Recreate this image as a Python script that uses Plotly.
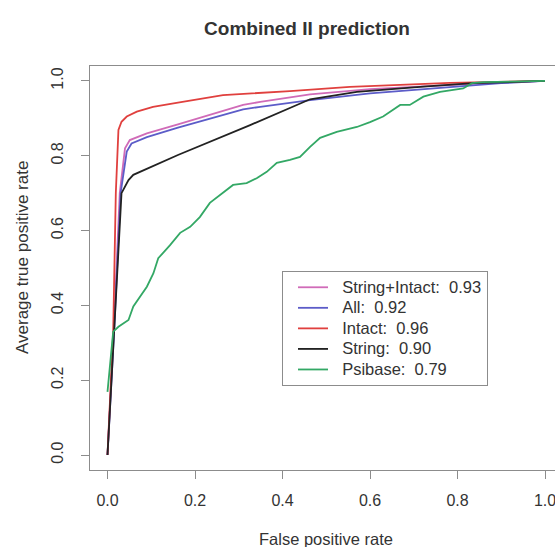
import plotly.graph_objects as go

# ---- data ----
series_names = ["String+Intact:\u00a0 0.93", "All:\u00a0 0.92", "Intact:\u00a0 0.96",
                "String:\u00a0 0.90", "Psibase:\u00a0 0.79"]

si_fpr = [0, 0.015, 0.028, 0.04, 0.051, 0.09, 0.161, 0.31, 0.349, 0.417, 0.463, 0.6, 0.783, 0.9, 1.0]
si_tpr = [0, 0.35, 0.70, 0.82, 0.842, 0.860, 0.884, 0.936, 0.944, 0.956, 0.964, 0.978, 0.989, 0.996, 1.0]

all_fpr = [0, 0.016, 0.030, 0.044, 0.055, 0.09, 0.161, 0.31, 0.349, 0.463, 0.6, 0.783, 0.9, 1.0]
all_tpr = [0, 0.35, 0.70, 0.811, 0.833, 0.850, 0.875, 0.924, 0.931, 0.949, 0.967, 0.984, 0.994, 1.0]

intact_fpr = [0, 0.013, 0.019, 0.025, 0.032, 0.044, 0.067, 0.104, 0.161, 0.264, 0.417, 0.554, 0.783, 0.9, 1.0]
intact_tpr = [0, 0.33, 0.70, 0.869, 0.891, 0.905, 0.918, 0.931, 0.942, 0.962, 0.973, 0.984, 0.995, 0.998, 1.0]

string_fpr = [0, 0.017, 0.032, 0.048, 0.059, 0.161, 0.326, 0.463, 0.57, 0.722, 0.836, 1.0]
string_tpr = [0, 0.36, 0.70, 0.735, 0.749, 0.802, 0.882, 0.951, 0.971, 0.985, 0.994, 1.0]

psi_fpr = [0, 0.013, 0.025, 0.048, 0.059, 0.09, 0.105, 0.116, 0.143, 0.166, 0.189, 0.211,
           0.234, 0.264, 0.287, 0.318, 0.341, 0.364, 0.387, 0.417, 0.44, 0.463, 0.486, 0.524,
           0.57, 0.6, 0.63, 0.669, 0.691, 0.722, 0.76, 0.813, 0.833, 0.858, 1.0]
psi_tpr = [0.169, 0.33, 0.343, 0.361, 0.397, 0.45, 0.486, 0.526, 0.561, 0.594, 0.61, 0.636,
           0.674, 0.70, 0.722, 0.727, 0.74, 0.757, 0.781, 0.789, 0.797, 0.824, 0.848, 0.864,
           0.877, 0.89, 0.905, 0.936, 0.936, 0.958, 0.971, 0.98, 0.994, 0.997, 1.0]

tick_vals = [0.0, 0.2, 0.4, 0.6, 0.8, 1.0]
tick_text = ["0.0", "0.2", "0.4", "0.6", "0.8", "1.0"]

colors = ["#D06BB8", "#5C5CC8", "#E0403E", "#222222", "#33A865"]

xs = [si_fpr, all_fpr, intact_fpr, string_fpr, psi_fpr]
ys = [si_tpr, all_tpr, intact_tpr, string_tpr, psi_tpr]

FONT = "Liberation Sans, Arial, sans-serif"
TXT = "#333333"
AX = "#8c8c8c"

fig = go.Figure()
for name, x, y, c in zip(series_names, xs, ys, colors):
    fig.add_trace(go.Scatter(x=x, y=y, mode="lines",
                             name='<span style="font-size:16.5px">\u00a0\u00a0' + name + '</span>',
                             line=dict(color=c, width=1.8)))

W, H = 555, 547
L, T, B = 90, 66, 77
fig.update_layout(
    width=W, height=H,
    margin=dict(l=L, r=0, t=T, b=B, autoexpand=False),
    paper_bgcolor="white", plot_bgcolor="white",
    font=dict(family=FONT, size=16, color=TXT),
    title=dict(text="<b>Combined II prediction</b>", x=307 / W, y=1 - 28 / H,
               xref="container", yref="container", xanchor="center", yanchor="middle",
               font=dict(size=19, color=TXT, family=FONT)),
    showlegend=True,
    legend=dict(x=(282 - L) / (W - L), y=(470 - 271) / (H - T - B),
                xanchor="left", yanchor="top",
                bordercolor=AX, borderwidth=1, bgcolor="white",
                font=dict(size=13.5, color=TXT, family=FONT),
                itemwidth=30, indentation=10, tracegroupgap=0),
)
fig.update_xaxes(range=[-0.04, (555 - 107.5) / 437.5], tickvals=tick_vals, ticktext=tick_text,
                 showgrid=False, zeroline=False, showline=True, mirror=True,
                 linecolor=AX, linewidth=1, ticks="outside", ticklen=8, tickcolor=AX,
                 ticklabelstandoff=8, ticklabeloverflow="allow",
                 tickfont=dict(size=16, color=TXT))
fig.update_yaxes(range=[-0.04, 1.04], tickvals=tick_vals, ticktext=tick_text,
                 showgrid=False, zeroline=False, showline=True, mirror=False,
                 linecolor=AX, linewidth=1, ticks="outside", ticklen=8, tickcolor=AX,
                 tickangle=-90, ticklabelstandoff=12, tickfont=dict(size=16, color=TXT))

fig.add_annotation(text="Average true positive rate", xref="paper", yref="paper",
                   x=(22 - L) / (W - L), y=(470 - 258) / (H - T - B), textangle=-90,
                   showarrow=False, xanchor="center", yanchor="middle",
                   font=dict(size=17, color=TXT, family=FONT))
fig.add_annotation(text="False positive rate", xref="paper", yref="paper",
                   x=(326 - L) / (W - L), y=-(539 - 470) / (H - T - B),
                   showarrow=False, xanchor="center", yanchor="middle",
                   font=dict(size=16.5, color=TXT, family=FONT))

fig.write_html("out.html")
